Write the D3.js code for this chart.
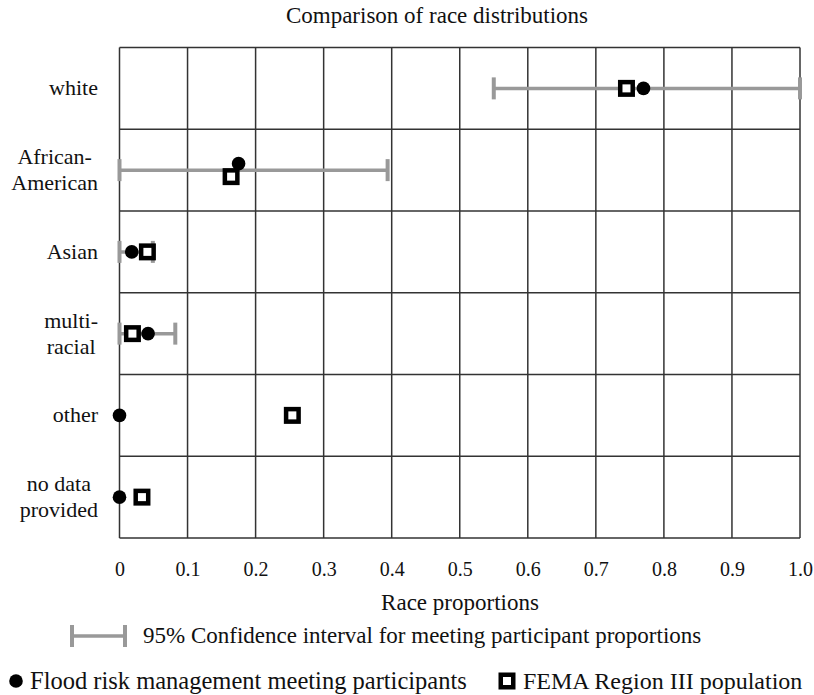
<!DOCTYPE html>
<html>
<head>
<meta charset="utf-8">
<script src="https://cdn.jsdelivr.net/npm/d3@7"></script>
<style>
  html, body { margin: 0; padding: 0; background: #fff; }
  svg { display: block; }
  text { font-family: "Liberation Serif", "Times New Roman", serif; fill: #111; }
</style>
</head>
<body>
<svg id="chart" width="814" height="695"></svg>
<script>
// ---- data ----
const categories = ["white", "African-American", "Asian", "multi-racial", "other", "no data provided"];
const categoryLines = [["white"], ["African-", "American"], ["Asian"], ["multi-", "racial"], ["other"], ["no data", "provided"]];
const participants = [0.77, 0.175, 0.018, 0.042, 0.0, 0.0];
const population   = [0.745, 0.164, 0.041, 0.019, 0.254, 0.033];
const ciLow  = [0.55, 0.0, 0.0, 0.0, null, null];
const ciHigh = [1.0, 0.394, 0.049, 0.082, null, null];
const tickValues = [0, 0.1, 0.2, 0.3, 0.4, 0.5, 0.6, 0.7, 0.8, 0.9, 1.0];
const tickLabels = ["0", "0.1", "0.2", "0.3", "0.4", "0.5", "0.6", "0.7", "0.8", "0.9", "1.0"];
const title = "Comparison of race distributions";
const xTitle = "Race proportions";
const legendCI = "95% Confidence interval for meeting participant proportions";
const legendParticipants = "Flood risk management meeting participants";
const legendPopulation = "FEMA Region III population";

// ---- layout ----
const svg = d3.select("#chart");
const plot = { left: 119.5, right: 800, top: 47.5, bottom: 538 };
const gridColor = "#333";
const ciColor = "#999";

const x = d3.scaleLinear().domain([0, 1]).range([plot.left, plot.right]);
const y = d3.scaleBand().domain(categories).range([plot.top, plot.bottom]);

svg.append("rect").attr("width", 814).attr("height", 695).attr("fill", "#fff");

// title
svg.append("text").attr("x", 437).attr("y", 23).attr("text-anchor", "middle")
  .style("font-size", "23px").text(title);

// grid
const grid = svg.append("g");
grid.selectAll("line.v").data(tickValues).join("line")
  .attr("x1", d => x(d)).attr("x2", d => x(d))
  .attr("y1", plot.top).attr("y2", plot.bottom)
  .attr("stroke", gridColor).attr("stroke-width", 1.5);
const bounds = categories.map(c => y(c)).concat([plot.bottom]);
grid.selectAll("line.h").data(bounds).join("line")
  .attr("x1", plot.left).attr("x2", plot.right)
  .attr("y1", d => d).attr("y2", d => d)
  .attr("stroke", gridColor).attr("stroke-width", 1.5);

// x axis labels
const xAxis = d3.axisBottom(x).tickValues(tickValues)
  .tickFormat((d, i) => tickLabels[i]).tickSize(0).tickPadding(0);
const gx = svg.append("g").attr("transform", `translate(0,${plot.bottom})`).call(xAxis);
gx.select(".domain").remove();
gx.selectAll("text").attr("dy", null).attr("y", 38)
  .style("font-size", "20px").style("font-family", '"Liberation Serif", serif').attr("fill", "#111");

svg.append("text").attr("x", 460).attr("y", 610).attr("text-anchor", "middle")
  .style("font-size", "23px").text(xTitle);

// y labels
const lineH = 26;
categories.forEach((c, i) => {
  const lines = categoryLines[i];
  const cy = y(c) + y.bandwidth() / 2;
  const t = svg.append("text").style("font-size", "22px");
  const first = cy - (lines.length - 1) * lineH / 2 + 7;
  lines.forEach((ln, j) => {
    t.append("tspan").attr("x", 0).attr("y", first + j * lineH).text(ln);
  });
  // centre lines within a block whose right edge is at 98
  const widths = t.selectAll("tspan").nodes().map(n => n.getComputedTextLength());
  const w = d3.max(widths);
  t.selectAll("tspan").attr("x", (d, j) => 98 - w + (w - widths[j]) / 2);
});

// markers
const rows = categories.map((c, i) => ({
  c, p: participants[i], q: population[i], lo: ciLow[i], hi: ciHigh[i]
}));
const capH = 22;
const ciG = svg.append("g").attr("stroke", ciColor);
rows.filter(r => r.lo !== null).forEach(r => {
  const cy = y(r.c) + y.bandwidth() / 2;
  ciG.append("line").attr("x1", x(r.lo)).attr("x2", x(r.hi)).attr("y1", cy).attr("y2", cy)
    .attr("stroke-width", 3.5);
  [r.lo, r.hi].forEach(v => {
    ciG.append("line").attr("x1", x(v)).attr("x2", x(v))
      .attr("y1", cy - capH / 2).attr("y2", cy + capH / 2).attr("stroke-width", 4);
  });
});

// dodge rule: separate markers vertically when they'd overlap horizontally
function dodge(r) {
  return Math.abs(x(r.p) - x(r.q)) < 12 ? 6.5 : 0;
}
const sq = 12.5;
svg.append("g").selectAll("rect").data(rows).join("rect")
  .attr("x", r => x(r.q) - sq / 2)
  .attr("y", r => y(r.c) + y.bandwidth() / 2 + dodge(r) - sq / 2)
  .attr("width", sq).attr("height", sq)
  .attr("fill", "#fff").attr("stroke", "#000").attr("stroke-width", 4.5);
svg.append("g").selectAll("circle").data(rows).join("circle")
  .attr("cx", r => x(r.p))
  .attr("cy", r => y(r.c) + y.bandwidth() / 2 - dodge(r))
  .attr("r", 6.8).attr("fill", "#000");

// legend
const lg = svg.append("g");
const l1y = 636;
lg.append("line").attr("x1", 72).attr("x2", 125).attr("y1", l1y).attr("y2", l1y)
  .attr("stroke", ciColor).attr("stroke-width", 3.5);
[72, 125].forEach(xx => lg.append("line").attr("x1", xx).attr("x2", xx)
  .attr("y1", l1y - capH / 2).attr("y2", l1y + capH / 2)
  .attr("stroke", ciColor).attr("stroke-width", 4));
lg.append("text").attr("x", 143).attr("y", l1y + 7).style("font-size", "23px").text(legendCI);

const l2y = 681;
lg.append("circle").attr("cx", 16).attr("cy", l2y).attr("r", 6.8).attr("fill", "#000");
lg.append("text").attr("x", 30).attr("y", l2y + 8).style("font-size", "24.5px").text(legendParticipants);
lg.append("rect").attr("x", 507 - sq / 2).attr("y", l2y - sq / 2).attr("width", sq).attr("height", sq)
  .attr("fill", "#fff").attr("stroke", "#000").attr("stroke-width", 4.5);
lg.append("text").attr("x", 523).attr("y", l2y + 8).style("font-size", "24px").text(legendPopulation);
</script>
</body>
</html>
